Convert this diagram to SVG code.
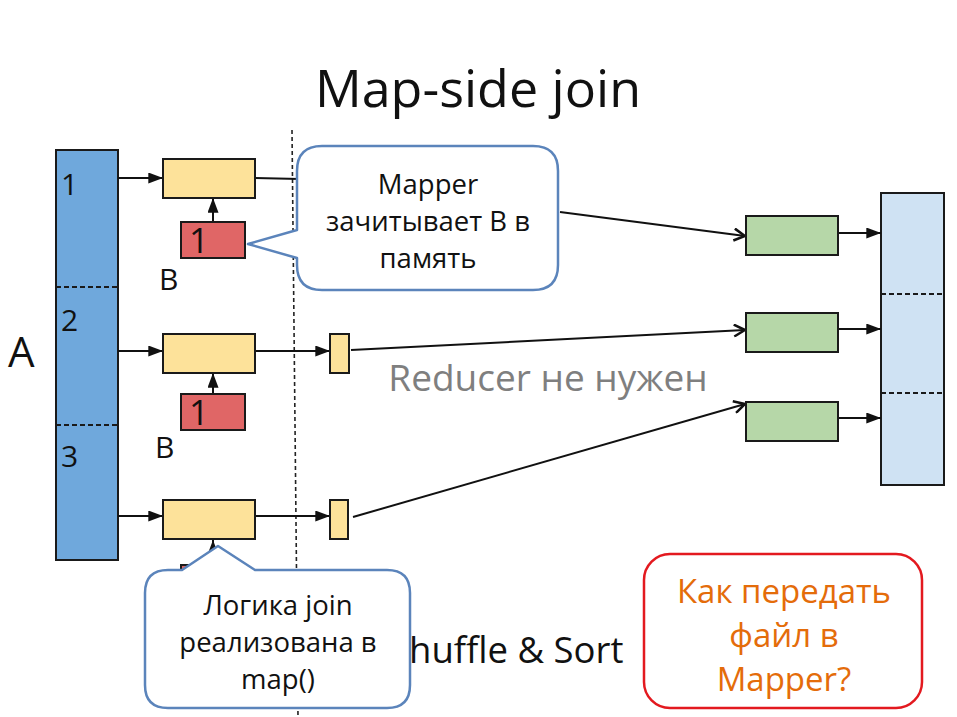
<svg xmlns="http://www.w3.org/2000/svg" width="957" height="717" viewBox="0 0 957 717">
<style>
.f{font-family:"Open Sans","Noto Sans","DejaVu Sans",sans-serif}
.box{stroke:#1a1a1a;stroke-width:2}
.yel{fill:#fde29a}
.red{fill:#e06666}
.grn{fill:#b6d7a8}
.ln{fill:none;stroke:#111;stroke-width:2}
.dash{fill:none;stroke:#1a1a1a;stroke-width:1.8;stroke-dasharray:5 3}
.call{fill:#fff;stroke:#5b84bb;stroke-width:2.5;stroke-linejoin:round}
.ct{font-size:27.5px;fill:#111;text-anchor:middle}
.num{font-size:30px;fill:#111}
.big{font-size:35px;fill:#111}
</style>
<defs>
<marker id="tri2" viewBox="0 0 16 12" refX="16" refY="6" markerWidth="15" markerHeight="11" markerUnits="userSpaceOnUse" orient="auto">
<path d="M0,0 L16,6 L0,12 z" fill="#111"/>
</marker>
<marker id="vee" viewBox="0 0 14 14" refX="13" refY="7" markerWidth="14" markerHeight="14" markerUnits="userSpaceOnUse" orient="auto">
<path d="M2,1 L13,7 L2,13" fill="none" stroke="#111" stroke-width="2.5"/>
</marker>
</defs>
<rect width="957" height="717" fill="#fff"/>
<text class="f" x="478" y="107" font-size="52" text-anchor="middle" fill="#111">Map-side join</text>

<line x1="292" y1="130" x2="298" y2="717" stroke="#222" stroke-width="1.6" stroke-dasharray="4 3"/>

<g id="colA">
<rect x="56" y="150" width="62" height="410" fill="#6fa8dc" class="box"/>
<line x1="56" y1="287" x2="118" y2="287" class="dash"/>
<line x1="56" y1="425" x2="118" y2="425" class="dash"/>
<text class="f num" x="61" y="195">1</text>
<text class="f num" x="61" y="331">2</text>
<text class="f num" x="61" y="467">3</text>
</g>
<text class="f" x="8" y="367" font-size="42" fill="#111">A</text>

<g id="colR">
<rect x="881" y="193" width="63" height="292" fill="#cfe2f3" class="box"/>
<line x1="881" y1="294" x2="944" y2="294" class="dash"/>
<line x1="881" y1="393" x2="944" y2="393" class="dash"/>
</g>

<g id="connectors">
<line x1="118" y1="178" x2="163" y2="178" class="ln" marker-end="url(#tri2)"/>
<line x1="118" y1="351" x2="163" y2="351" class="ln" marker-end="url(#tri2)"/>
<line x1="118" y1="516" x2="163" y2="516" class="ln" marker-end="url(#tri2)"/>
<line x1="213" y1="222" x2="213" y2="198" class="ln" marker-end="url(#tri2)"/>
<line x1="213" y1="394" x2="213" y2="373" class="ln" marker-end="url(#tri2)"/>
<line x1="213" y1="565" x2="213" y2="540" class="ln" marker-end="url(#tri2)"/>
<path d="M255,178 L300,179" class="ln"/>
<line x1="255" y1="351" x2="330" y2="351" class="ln" marker-end="url(#tri2)"/>
<line x1="255" y1="516" x2="330" y2="516" class="ln" marker-end="url(#tri2)"/>
<line x1="560" y1="212" x2="745" y2="236" class="ln" marker-end="url(#vee)"/>
<line x1="351" y1="350" x2="745" y2="330" class="ln" marker-end="url(#vee)"/>
<line x1="353" y1="517" x2="745" y2="404" class="ln" marker-end="url(#vee)"/>
<line x1="838" y1="233" x2="881" y2="233" class="ln" marker-end="url(#tri2)"/>
<line x1="838" y1="329" x2="881" y2="329" class="ln" marker-end="url(#tri2)"/>
<line x1="838" y1="418" x2="881" y2="418" class="ln" marker-end="url(#tri2)"/>
</g>

<g id="map1"><rect x="163" y="159" width="92" height="39" class="box yel"/></g>
<g id="map2"><rect x="163" y="334" width="92" height="39" class="box yel"/></g>
<g id="map3"><rect x="163" y="500" width="92" height="39" class="box yel"/></g>

<g id="b1">
<rect x="181" y="222" width="64" height="36" class="box red"/>
<text class="f big" x="189" y="253">1</text>
<text class="f num" x="159" y="290">B</text>
</g>
<g id="b2">
<rect x="181" y="394" width="64" height="36" class="box red"/>
<text class="f big" x="189" y="425">1</text>
<text class="f num" x="155" y="458">B</text>
</g>
<g id="b3"><rect x="181" y="565" width="64" height="36" class="box red"/></g>

<g id="out2"><rect x="330" y="334" width="19" height="39" class="box yel"/></g>
<g id="out3"><rect x="330" y="500" width="18" height="39" class="box yel"/></g>

<g id="g1"><rect x="746" y="216" width="92" height="39" class="box grn"/></g>
<g id="g2"><rect x="746" y="313" width="92" height="39" class="box grn"/></g>
<g id="g3"><rect x="746" y="402" width="92" height="39" class="box grn"/></g>

<text class="f" x="548" y="391" font-size="37" text-anchor="middle" fill="#7f7f7f">Reducer не нужен</text>
<text class="f" x="409" y="663" font-size="36.5" fill="#111">huffle &amp; Sort</text>

<g id="callout1">
<path d="M322,146 H533 Q558,146 558,171 V265 Q558,290 533,290 H322 Q297,290 297,265 V258 L248,244 L297,230 V171 Q297,146 322,146 Z" class="call"/>
<text class="f ct" x="428" y="194">Mapper</text>
<text class="f ct" x="428" y="231">зачитывает B в</text>
<text class="f ct" x="428" y="268">память</text>
</g>

<g id="callout2">
<path d="M168,570 H182 L218,546 L255,570 H387 Q410,570 410,593 V685 Q410,708 387,708 H168 Q145,708 145,685 V593 Q145,570 168,570 Z" class="call"/>
<text class="f ct" x="278" y="615">Логика join</text>
<text class="f ct" x="278" y="652">реализована в</text>
<text class="f ct" x="278" y="689">map()</text>
</g>

<g id="question">
<rect x="644" y="554" width="278" height="154" rx="26" fill="#fff" stroke="#e3191f" stroke-width="2.5"/>
<text class="f" x="784" y="603" font-size="33" text-anchor="middle" fill="#e46c0a">Как передать</text>
<text class="f" x="784" y="647" font-size="33" text-anchor="middle" fill="#e46c0a">файл в</text>
<text class="f" x="784" y="691" font-size="33" text-anchor="middle" fill="#e46c0a">Mapper?</text>
</g>
</svg>
